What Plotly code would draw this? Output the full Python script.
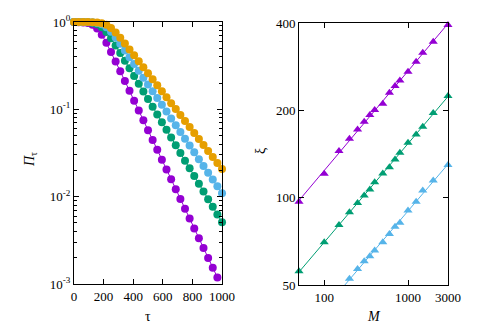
import numpy as np
import plotly.graph_objects as go

# left panel: survival probability vs tau
tau = [0, 31.25, 62.5, 93.75, 125, 156.25, 187.5, 218.75, 250, 281.25, 312.5,
       343.75, 375, 406.25, 437.5, 468.75, 500, 531.25, 562.5, 593.75, 625,
       656.25, 687.5, 718.75, 750, 781.25, 812.5, 843.75, 875, 906.25, 937.5,
       968.75, 1000]

pi_purple = [0.9986, 0.9961, 0.9893, 0.971, 0.927, 0.841, 0.715, 0.577, 0.454,
             0.353, 0.273, 0.211, 0.163, 0.1257, 0.097, 0.0748, 0.0577, 0.0446,
             0.0344, 0.02655, 0.0205, 0.0158, 0.0122, 0.00942, 0.00727, 0.00561,
             0.00433, 0.00334, 0.00258, 0.00199, 0.00154, 0.00119, None]
pi_green = [0.9996, 0.9989, 0.997, 0.9915, 0.977, 0.942, 0.872, 0.768, 0.65,
            0.538, 0.4415, 0.3609, 0.295, 0.2408, 0.1966, 0.1605, 0.1311, 0.1069,
            0.0873, 0.0713, 0.0582, 0.0475, 0.0388, 0.03166, 0.02585, 0.0211,
            0.01722, 0.01406, 0.01148, 0.00937, 0.00765, 0.00624, 0.0051]
pi_blue = [0.9999, 0.9996, 0.9989, 0.9968, 0.9911, 0.9761, 0.9406, 0.8725, 0.774,
           0.665, 0.5618, 0.4716, 0.3947, 0.3302, 0.2761, 0.2307, 0.1929, 0.1613,
           0.1348, 0.1127, 0.0942, 0.0787, 0.0658, 0.055, 0.046, 0.0385, 0.0322,
           0.0269, 0.02247, 0.01878, 0.0157, 0.01313, 0.01097]
pi_orange = [0.9999, 0.9998, 0.9995, 0.9985, 0.9958, 0.9884, 0.9695, 0.9277,
             0.8547, 0.7595, 0.6597, 0.5672, 0.4857, 0.4151, 0.3548, 0.3031,
             0.2588, 0.2212, 0.1889, 0.1614, 0.1378, 0.1177, 0.1006, 0.0859,
             0.0734, 0.0627, 0.0536, 0.0457, 0.0391, 0.0334, 0.0285, 0.02434,
             0.02079]

# right panel: xi vs M
M = [50, 100, 150, 200, 250, 300, 350, 400, 500, 600, 700, 800, 1000, 1250,
     1500, 2000, 3000]
xi_purple = [96.7, 120.8, 144.7, 159.6, 171.8, 182.6, 192.6, 200.4, 210.7, 230,
             242.7, 253.7, 271.9, 294.3, 316, 345, 394]
xi_green = [55.7, 70.2, 80.4, 89.1, 95.9, 101.7, 106.7, 113.1, 121.1, 127.4,
            135.4, 142.8, 154.6, 165.2, 175.6, 195.8, 224]
xi_blue = [None, None, None, 52.5, 56.8, 60.4, 62.8, 65.7, 70.2, 75, 79.3, 81.9,
           90.3, 96.7, 105.8, 114.6, 129.5]

PURPLE, GREEN, BLUE, ORANGE = "#9400d3", "#009e73", "#56b4e9", "#e69f00"
FONT = "Liberation Serif"

fig = go.Figure()

for ys, c in [(pi_purple, PURPLE), (pi_green, GREEN), (pi_blue, BLUE), (pi_orange, ORANGE)]:
    fig.add_trace(go.Scatter(x=tau, y=ys, mode="lines+markers", cliponaxis=False,
                             line=dict(color=c, width=1),
                             marker=dict(color=c, size=8, line=dict(width=0)),
                             xaxis="x", yaxis="y", showlegend=False))

for ys, c in [(xi_purple, PURPLE), (xi_green, GREEN), (xi_blue, BLUE)]:
    mm = np.array([m for m, v in zip(M, ys) if v is not None], float)
    vv = np.array([v for v in ys if v is not None], float)
    k, b = np.polyfit(np.log10(mm), np.log10(vv), 1)
    xf = np.array([30.0, 3000.0])
    fig.add_trace(go.Scatter(x=xf, y=10 ** (b + k * np.log10(xf)), mode="lines",
                             line=dict(color=c, width=1),
                             xaxis="x2", yaxis="y2", showlegend=False))
    fig.add_trace(go.Scatter(x=M, y=ys, mode="markers", cliponaxis=False,
                             marker=dict(color=c, size=8, symbol="triangle-up",
                                         line=dict(width=0)),
                             xaxis="x2", yaxis="y2", showlegend=False))

ax = dict(showline=True, linecolor="black", linewidth=1, mirror="allticks",
          ticks="inside", ticklen=5, tickcolor="black", showgrid=False,
          zeroline=False, automargin=False,
          tickfont=dict(family=FONT, size=13, color="black"))

minor_left = [m * 10.0 ** e for e in (-3, -2, -1) for m in range(2, 10)]
eps = 1e-4

fig.update_layout(
    width=497, height=323, plot_bgcolor="white", paper_bgcolor="white",
    margin=dict(l=0, r=0, t=0, b=0),
    xaxis=dict(ax, domain=[0.1328, 0.4306], range=[-0.01, 1000.01],
               tickvals=[0, 200, 400, 600, 800, 1000], anchor="y"),
    yaxis=dict(ax, domain=[0.1455, 0.9567], type="log", range=[-3, eps],
               tickvals=[1, 0.1, 0.01, 0.001],
               ticktext=["10<sup>0</sup>", "10<sup>-1</sup>", "10<sup>-2</sup>", "10<sup>-3</sup>"],
               minor=dict(tickvals=minor_left, ticks="inside", ticklen=3, tickcolor="black"),
               anchor="x"),
    xaxis2=dict(ax, domain=[0.5855, 0.8853], type="log",
                range=[np.log10(50) - eps, np.log10(3000) + eps],
                tickvals=[100, 1000, 3000], ticktext=["100", "1000", "3000"], anchor="y2"),
    yaxis2=dict(ax, domain=[0.1425, 0.9535], type="log",
                range=[np.log10(50) - eps, np.log10(400) + eps],
                tickvals=[50, 100, 200, 400], ticktext=["50", "100", "200", "400"], anchor="x2"),
)

titles = [
    ("<i>Π</i><sub>τ</sub>", 22, 152, -90),
    ("τ", 140, 308, 0),
    ("ξ", 252, 143, -90),
    ("<i>M</i>", 366, 308, 0),
]
for txt, px, py, ang in titles:
    fig.add_annotation(text=txt, x=px / 497, y=1 - py / 323, xref="paper", yref="paper",
                       xanchor="center", yanchor="middle",
                       showarrow=False, textangle=ang,
                       font=dict(family=FONT, size=14, color="black"))

fig.write_html("out.html")
